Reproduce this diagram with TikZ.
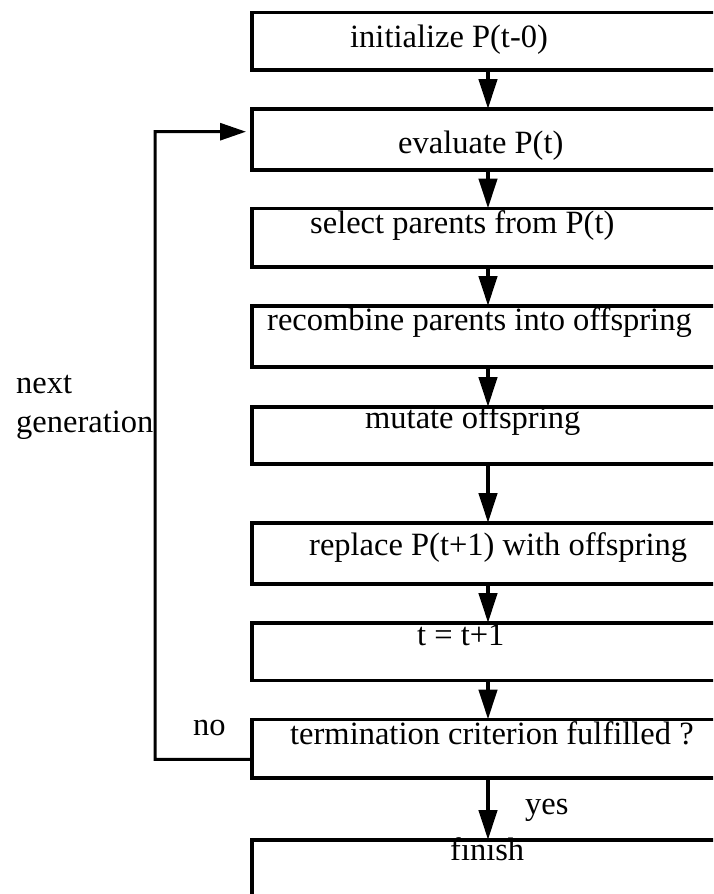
\documentclass[tikz,border=0pt]{standalone}
\usepackage{fontspec}
\setmainfont{Liberation Serif}
\usetikzlibrary{arrows.meta,positioning}

\begin{document}
\begin{tikzpicture}[
      x=1pt,y=-1pt,
      node distance=39pt,
      stage/.style={draw,line width=3.5pt,rectangle,minimum width=472pt,
                    inner sep=0pt,outer sep=0pt},
      txt/.style={anchor=base west,inner sep=0pt,
                  font=\fontsize{32.5}{39}\selectfont},
      flow/.style={line width=4.5pt,-{Triangle[length=30pt,width=18pt]}},
      back/.style={line width=3pt,-{Triangle[length=26pt,width=17pt]},shorten >=6pt}
    ]
    \useasboundingbox (0,0) rectangle (713,894);
    \clip (0,0) rectangle (713,894);
    % boxes, open on the right
    \node[stage,minimum height=57.3pt,anchor=north] (init) at (488,12.7) {};
    \node[stage,minimum height=61pt,below=of init] (eval) {};
    \node[stage,minimum height=58.5pt,below=38.5pt of eval] (select) {};
    \node[stage,minimum height=61pt,below=of select] (recomb) {};
    \node[stage,minimum height=57pt,below=40pt of recomb] (mutate) {};
    \node[stage,minimum height=61pt,below=59pt of mutate] (replace) {};
    \node[stage,minimum height=57.5pt,below=of replace] (incr) {};
    \node[stage,minimum height=58.5pt,below=of incr] (term) {};
    \node[stage,minimum height=110pt,below=62pt of term] (finish) {};
    % texts
    \node[txt] (tinit) at (350,47) {initialize P(t-0)};
    \node[txt] (teval) at (398,153) {evaluate P(t)};
    \node[txt] (tselect) at (310,233) {select parents from P(t)};
    \node[txt] (trecomb) at (267,330) {recombine parents into offspring};
    \node[txt] (tmutate) at (365,428) {mutate offspring};
    \node[txt] (treplace) at (309,555) {replace P(t+1) with offspring};
    \node[txt] (tincr) at (417,645) {t = t+1};
    \node[txt] (tterm) at (290,744) {termination criterion fulfilled ?};
    \node[txt] (tfinish) at (450,860) {finish};
    \node[txt] (tyes) at (525,814) {yes};
    \node[txt] (tno) at (193,735) {no};
    \node[txt,align=left] (tnext) at (16,432) {next\\generation};
    % arrows
    \draw[flow] (init) -- (eval);
    \draw[flow] (eval) -- (select);
    \draw[flow] (select) -- (recomb);
    \draw[flow] (recomb) -- (mutate);
    \draw[flow] (mutate) -- (replace);
    \draw[flow] (replace) -- (incr);
    \draw[flow] (incr) -- (term);
    \draw[flow] (term) -- (finish);
    \coordinate (bend) at (155,131.7);
    \draw[back] ([yshift=-10.5pt]term.west) -| (bend) -- ([yshift=7.8pt]eval.west);
  \end{tikzpicture}
\end{document}
